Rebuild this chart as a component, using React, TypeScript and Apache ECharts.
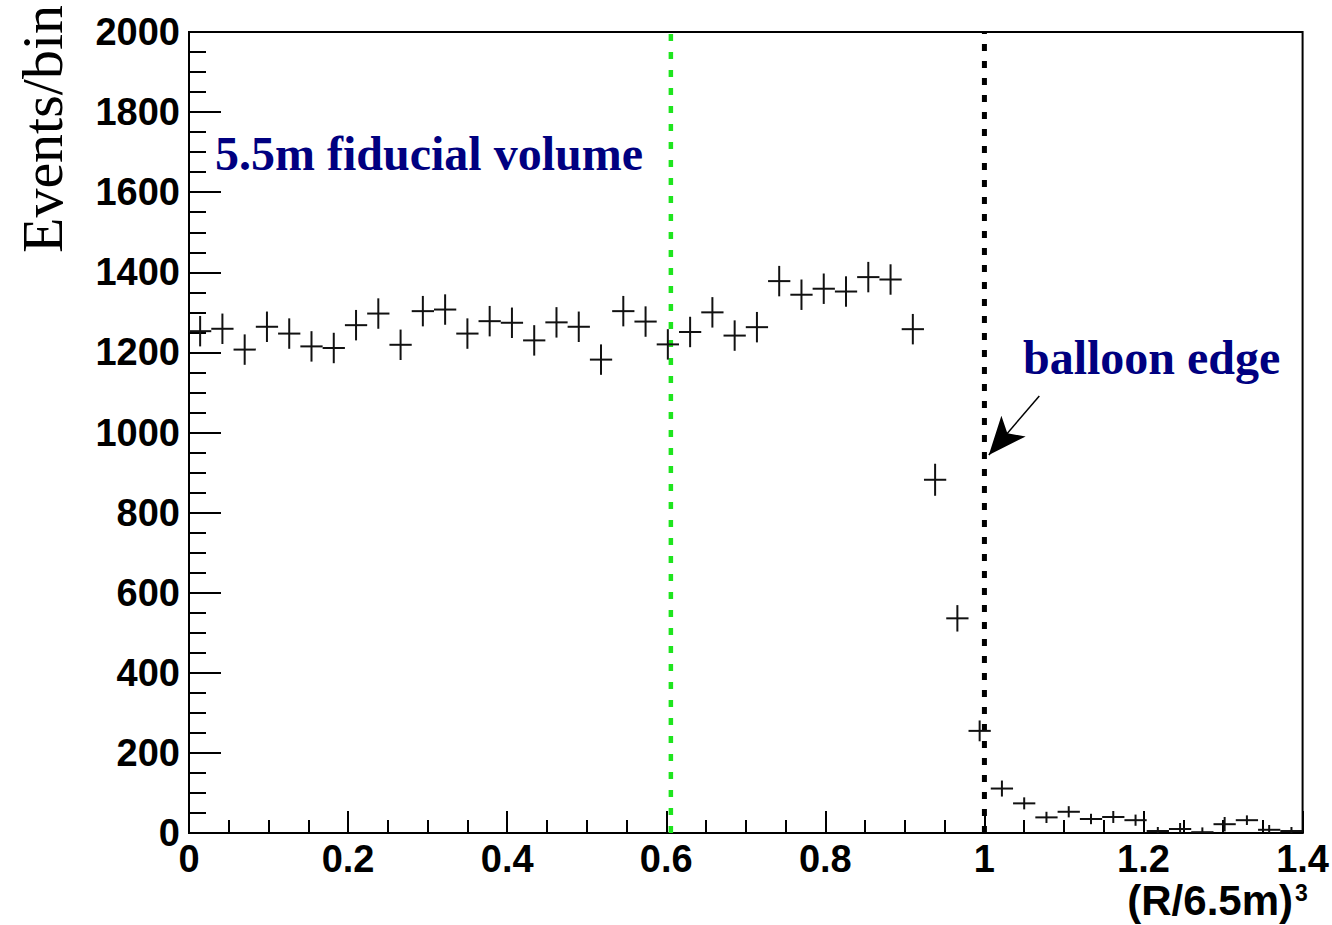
import React, { useEffect, useRef } from "react";
import * as echarts from "echarts";

// Histogram binning
const X_START = 0;
const BIN_WIDTH = 0.028;

// Events per bin (50 bins from 0 to 1.4)
const counts = [
  1253, 1259, 1207, 1264, 1247, 1215, 1211, 1268, 1297, 1219,
  1303, 1307, 1247, 1278, 1274, 1230, 1275, 1264, 1182, 1303,
  1277, 1220, 1251, 1300, 1242, 1263, 1378, 1344, 1359, 1352,
  1388, 1382, 1258, 882, 536, 255, 111, 74, 39, 53,
  35, 40, 32, 5, 10, 2, 22, 32, 8, 5,
];

// Error bar half-heights
const errors = [
  38, 38, 38, 38, 38, 38, 38, 38, 38, 38,
  38, 38, 38, 38, 38, 38, 38, 38, 38, 38,
  38, 38, 38, 38, 38, 38, 38, 38, 38, 38,
  38, 38, 38, 40, 33, 26, 20, 15, 14, 14,
  13, 15, 14, 10, 15, 12, 18, 12, 12, 10,
];

// Reference lines
const FIDUCIAL_X = 0.6058; // (5.5/6.5)^3
const BALLOON_X = 1.0;
const ARROW_FROM = [1.069, 1091];
const ARROW_TO = [1.0055, 944];

const X_MIN = 0;
const X_MAX = 1.4;
const Y_MIN = 0;
const Y_MAX = 2000;

const binCenters = counts.map((_, i) => X_START + BIN_WIDTH * (i + 0.5));

export default function App() {
  const ref = useRef<HTMLDivElement>(null);

  useEffect(() => {
    if (!ref.current) return;
    const chart = echarts.init(ref.current, undefined, { renderer: "svg" });
    const data = counts.map((c, i) => [binCenters[i], c, errors[i]]);
    const serifFont = '"Liberation Serif", "Times New Roman", serif';
    const sansFont = '"Liberation Sans", Arial, sans-serif';

    chart.setOption({
      animation: false,
      backgroundColor: "#ffffff",
      grid: {
        left: 189,
        top: 32,
        right: 23,
        bottom: 92,
        show: true,
        borderColor: "#000",
        borderWidth: 2,
        containLabel: false,
      },
      xAxis: {
        type: "value",
        min: X_MIN,
        max: X_MAX,
        interval: 0.2,
        axisLine: { show: true, onZero: false, lineStyle: { color: "#000", width: 2 } },
        axisTick: { show: true, inside: true, length: 22, lineStyle: { color: "#000", width: 2 } },
        minorTick: { show: true, splitNumber: 4, length: 13, lineStyle: { color: "#000", width: 2 } },
        splitLine: { show: false },
        axisLabel: {
          color: "#000",
          fontSize: 38,
          fontWeight: "bold",
          fontFamily: sansFont,
          margin: 7,
          showMinLabel: true,
          showMaxLabel: true,
          formatter: (v: number) => String(+v.toFixed(1)),
        },
      },
      yAxis: {
        type: "value",
        min: Y_MIN,
        max: Y_MAX,
        interval: 200,
        axisLine: { show: true, lineStyle: { color: "#000", width: 2 } },
        axisTick: { show: true, inside: true, length: 32, lineStyle: { color: "#000", width: 2 } },
        minorTick: { show: true, splitNumber: 4, length: 17, lineStyle: { color: "#000", width: 2 } },
        splitLine: { show: false },
        axisLabel: {
          color: "#000",
          fontSize: 38,
          fontWeight: "bold",
          fontFamily: sansFont,
          margin: 9,
          formatter: (v: number) => String(Math.round(v)),
        },
      },
      series: [
        {
          type: "line",
          data: [
            [FIDUCIAL_X, Y_MIN],
            [FIDUCIAL_X, Y_MAX],
          ],
          symbol: "none",
          silent: true,
          z: 1,
          lineStyle: { color: "#1ee51e", width: 4.5, type: [7, 11] },
        },
        {
          type: "line",
          data: [
            [BALLOON_X, Y_MIN],
            [BALLOON_X, Y_MAX],
          ],
          symbol: "none",
          silent: true,
          z: 1,
          lineStyle: { color: "#000", width: 5, type: [7, 10] },
          markLine: {
            silent: true,
            symbol: ["none", "arrow"],
            symbolSize: [24, 38],
            label: { show: false },
            lineStyle: { color: "#000", width: 1.5, type: "solid" },
            data: [[{ coord: ARROW_FROM }, { coord: ARROW_TO }]],
          },
        },
        {
          type: "custom",
          data,
          encode: { x: 0, y: 1 },
          z: 3,
          renderItem: (params: any, api: any) => {
            const x = api.value(0);
            const y = api.value(1);
            const e = api.value(2);
            const left = api.coord([x - BIN_WIDTH / 2, y]);
            const right = api.coord([x + BIN_WIDTH / 2, y]);
            const lo = api.coord([x, Math.max(Y_MIN, y - e)]);
            const hi = api.coord([x, y + e]);
            const style = { stroke: "#111", lineWidth: 2 };
            return {
              type: "group",
              children: [
                { type: "line", shape: { x1: left[0], y1: left[1], x2: right[0], y2: right[1] }, style },
                { type: "line", shape: { x1: lo[0], y1: lo[1], x2: hi[0], y2: hi[1] }, style },
              ],
            };
          },
        },
      ],
      graphic: [
        {
          type: "text",
          x: 42,
          y: 129,
          rotation: Math.PI / 2,
          style: {
            text: "Events/bin",
            fill: "#000",
            fontSize: 58,
            fontFamily: serifFont,
            align: "center",
            verticalAlign: "middle",
          },
        },
        {
          type: "text",
          x: 215,
          y: 153,
          style: {
            text: "5.5m fiducial volume",
            fill: "#000080",
            fontSize: 48,
            fontWeight: "bold",
            fontFamily: serifFont,
            align: "left",
            verticalAlign: "middle",
          },
        },
        {
          type: "text",
          x: 1023,
          y: 357,
          style: {
            text: "balloon edge",
            fill: "#000080",
            fontSize: 48,
            fontWeight: "bold",
            fontFamily: serifFont,
            align: "left",
            verticalAlign: "middle",
          },
        },
        {
          type: "text",
          x: 1293,
          y: 900,
          style: {
            text: "(R/6.5m)",
            fill: "#000",
            fontSize: 42,
            fontWeight: "bold",
            fontFamily: sansFont,
            align: "right",
            verticalAlign: "middle",
          },
        },
        {
          type: "text",
          x: 1295,
          y: 893,
          style: {
            text: "3",
            fill: "#000",
            fontSize: 23,
            fontWeight: "bold",
            fontFamily: sansFont,
            align: "left",
            verticalAlign: "middle",
          },
        },
      ],
    });

    return () => {
      chart.dispose();
    };
  }, []);

  return (
    <div
      ref={ref}
      style={{ position: "fixed", left: 0, top: 0, width: 1332, height: 925, background: "#fff" }}
    />
  );
}
